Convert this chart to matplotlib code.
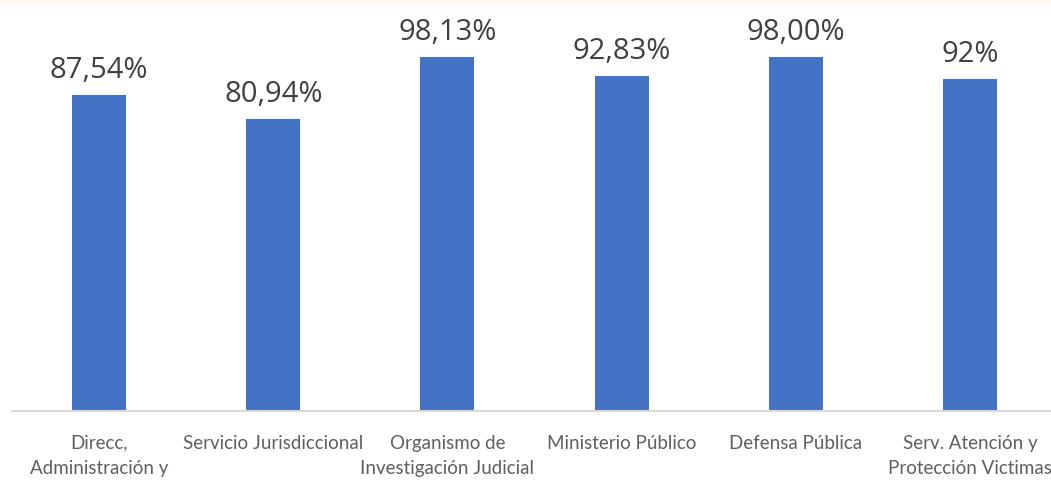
import matplotlib.pyplot as plt
from matplotlib.patches import Rectangle

categorias = ['Direcc,\nAdministración y', 'Servicio Jurisdiccional',
              'Organismo de\nInvestigación Judicial', 'Ministerio Público',
              'Defensa Pública', 'Serv. Atención y\nProtección Victimas']
valores = [87.54, 80.94, 98.13, 92.83, 98.00, 92.00]
etiquetas = ['87,54%', '80,94%', '98,13%', '92,83%', '98,00%', '92%']

fig = plt.figure(figsize=(10.51, 4.88), dpi=100)
# franja crema arriba
fig.patches.append(Rectangle((0, 1 - 4 / 488), 1, 4 / 488, transform=fig.transFigure,
                             facecolor='#FDFAF2', edgecolor='none'))
ax = fig.add_axes([12 / 1051, 77 / 488, 1045 / 1051, 361 / 488])

x = range(len(valores))
ax.bar(x, valores, width=0.31, color='#4472C4', zorder=2)
for i, (v, t) in enumerate(zip(valores, etiquetas)):
    ax.annotate(t, (i, v), xytext=(0, 7), textcoords='offset points',
                ha='center', va='bottom', fontsize=21, color='#404040',
                family='Open Sans', annotation_clip=False)

ax.set_xlim(-0.5, 5.5)
ax.set_ylim(0, 100)
ax.set_xticks(list(x))
ax.set_xticklabels(categorias, fontsize=13.5, color='#5f5f5f', family='Lato',
                   linespacing=1.6)
ax.tick_params(axis='x', length=0, pad=17)
ax.set_yticks([])
for s in ['top', 'right', 'left']:
    ax.spines[s].set_visible(False)
ax.spines['bottom'].set_color('#D9D9D9')
ax.spines['bottom'].set_linewidth(1.5)

plt.savefig('out.png', dpi=100)
